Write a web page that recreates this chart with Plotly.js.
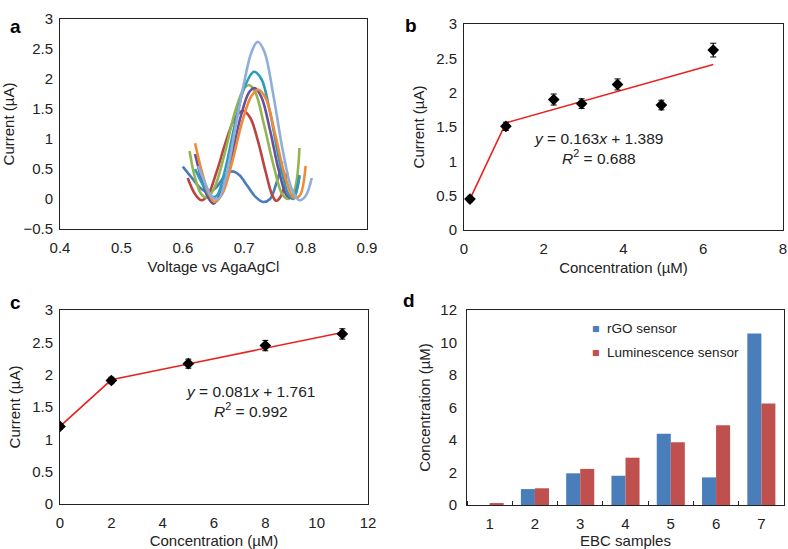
<!DOCTYPE html>
<html>
<head>
<meta charset="utf-8">
<script src="https://cdn.plot.ly/plotly-3.0.1.min.js"></script>
<style>html,body{margin:0;padding:0;background:#fff}#chart{width:788px;height:549px}</style>
</head>
<body>
<div id="chart"></div>
<script>
// ---- Panel a: voltammograms (voltage, current) ----
const vBlue = [0.600,0.615,0.630,0.643,0.655,0.668,0.680,0.692,0.705,0.718,0.731,0.742,0.752,0.762];
const iBlue = [0.54,0.35,0.17,0.11,0.20,0.38,0.46,0.40,0.22,0.04,-0.05,0.0,0.25,0.62];
const vRed = [0.608,0.620,0.630,0.640,0.655,0.670,0.685,0.698,0.710,0.722,0.735,0.745,0.752,0.760,0.770];
const iRed = [0.35,0.08,-0.02,0.05,0.45,0.95,1.35,1.47,1.35,0.98,0.45,0.08,-0.03,0.05,0.45];
const vGreen = [0.611,0.620,0.630,0.640,0.652,0.668,0.685,0.700,0.708,0.718,0.732,0.748,0.762,0.772,0.782,0.790];
const iGreen = [0.80,0.35,0.08,0.02,0.20,0.75,1.45,1.85,1.90,1.78,1.25,0.55,0.08,0.0,0.15,0.85];
const vPurple = [0.620,0.630,0.640,0.650,0.662,0.678,0.695,0.708,0.717,0.728,0.742,0.757,0.770,0.780,0.790];
const iPurple = [0.75,0.35,0.05,-0.08,0.10,0.65,1.40,1.78,1.85,1.70,1.15,0.45,0.05,0.03,0.38];
const vTeal = [0.620,0.632,0.645,0.655,0.668,0.685,0.700,0.716,0.728,0.742,0.757,0.772,0.780,0.790];
const iTeal = [0.50,0.25,0.05,0.05,0.45,1.25,1.85,2.12,2.00,1.45,0.65,0.08,0.0,0.40];
const vOrange = [0.620,0.630,0.642,0.652,0.665,0.680,0.697,0.712,0.723,0.735,0.750,0.766,0.780,0.790,0.800];
const iOrange = [0.93,0.50,0.10,-0.05,0.10,0.60,1.30,1.72,1.82,1.68,1.10,0.40,0.03,0.05,0.55];
const vLight = [0.625,0.637,0.648,0.658,0.670,0.685,0.700,0.712,0.722,0.733,0.748,0.763,0.778,0.790,0.800,0.810];
const iLight = [0.55,0.25,0.03,0.0,0.35,1.15,1.95,2.45,2.62,2.45,1.70,0.80,0.15,-0.02,0.05,0.35];
const curveColors = ['#4a7ebb','#b94441','#92b552','#6b4f9a','#2e9bbd','#f08a35','#8eaedb'];

// ---- Panel b: calibration ----
const concB = [0.15,1.05,2.25,2.95,3.85,4.95,6.25];
const currB = [0.45,1.51,1.90,1.84,2.12,1.82,2.62];
const errB = [0.04,0.06,0.08,0.07,0.08,0.07,0.10];
const fitBX = [0.15,1.05,6.25];
const fitBY = [0.45,1.56,2.41];

// ---- Panel c: calibration ----
const concC = [0,2,5,8,11];
const currC = [1.20,1.91,2.17,2.45,2.63];
const errC = [0.04,0.05,0.07,0.08,0.08];
const fitCX = [0,2,5,8,11];
const fitCY = [1.20,1.92,2.166,2.41,2.652];

// ---- Panel d: EBC samples ----
const samples = [1,2,3,4,5,6,7];
const rgo = [0,0.98,1.95,1.80,4.39,1.70,10.56];
const lum = [0.12,1.03,2.22,2.91,3.86,4.90,6.24];
const seriesNames = ['rGO sensor','Luminescence sensor'];
const barColors = ['#4a7ebb','#c0504d'];

const FONT = 'Liberation Sans, Arial, Helvetica, sans-serif';
const TXT = '#222';
const traces = [];
const curves = [[vBlue,iBlue],[vRed,iRed],[vGreen,iGreen],[vPurple,iPurple],[vTeal,iTeal],[vOrange,iOrange],[vLight,iLight]];
curves.forEach((c,k)=>{
  traces.push({x:c[0],y:c[1],type:'scatter',mode:'lines',line:{color:curveColors[k],width:2.6,shape:'spline',smoothing:1},xaxis:'x',yaxis:'y',showlegend:false,hoverinfo:'skip'});
});
traces.push({x:fitBX,y:fitBY,type:'scatter',mode:'lines',line:{color:'#e8231f',width:1.6},xaxis:'x2',yaxis:'y2',showlegend:false});
traces.push({x:concB,y:currB,type:'scatter',mode:'markers',marker:{symbol:'diamond',size:9,color:'#000'},
  error_y:{type:'data',array:errB,color:'#000',thickness:1,width:3},xaxis:'x2',yaxis:'y2',showlegend:false});
traces.push({x:fitCX,y:fitCY,type:'scatter',mode:'lines',line:{color:'#e8231f',width:1.6},xaxis:'x3',yaxis:'y3',showlegend:false});
traces.push({x:concC,y:currC,type:'scatter',mode:'markers',marker:{symbol:'diamond',size:9,color:'#000'},
  error_y:{type:'data',array:errC,color:'#000',thickness:1,width:3},xaxis:'x3',yaxis:'y3',showlegend:false});
traces.push({x:samples,y:rgo,type:'bar',name:seriesNames[0],marker:{color:barColors[0]},xaxis:'x4',yaxis:'y4',showlegend:false});
traces.push({x:samples,y:lum,type:'bar',name:seriesNames[1],marker:{color:barColors[1]},xaxis:'x4',yaxis:'y4',showlegend:false});
// legend entries with a small square key right beside the text, as in the reference
[0,1].forEach(k=>{
  traces.push({x:[null],y:[null],type:'scatter',mode:'markers',
    name:'<span style="color:'+barColors[k]+';font-size:12.5px">■</span>  '+seriesNames[k],
    marker:{symbol:'square',size:1,color:'rgba(0,0,0,0)',line:{width:0}},xaxis:'x4',yaxis:'y4',legend:k===0?'legend':'legend2'});
});

function ax(domain, range, dtick, title, standoff, anchor, extra){
  return Object.assign({domain:domain, range:range, dtick:dtick, tick0:0, anchor:anchor,
    showline:true, linecolor:'#222', linewidth:1, mirror:true, ticks:'', showgrid:false, zeroline:false,
    tickfont:{family:FONT,size:15,color:TXT},
    title:{text:title, font:{family:FONT,size:15,color:TXT}, standoff:standoff}}, extra||{});
}
const W=788,H=549;
const px=v=>v/W, py=v=>1-v/H;
const legendStyle = {xanchor:'left',yanchor:'middle',bgcolor:'rgba(0,0,0,0)',itemwidth:30,font:{family:FONT,size:13.5,color:TXT}};

const layout = {
  width:W, height:H, margin:{l:0,r:0,t:0,b:0}, paper_bgcolor:'#fff', plot_bgcolor:'#fff',
  font:{family:FONT,color:TXT},
  barmode:'group', bargap:0.38, bargroupgap:0,
  xaxis: ax([px(60),px(367)],[0.4,0.9],0.1,'Voltage vs AgaAgCl',6,'y',{ticklabelstandoff:5}),
  yaxis: ax([py(229),py(19)],[-0.5,3],0.5,'Current (µA)',7,'x',{ticklabelstandoff:3}),
  xaxis2: ax([px(464),px(783)],[0,8],2,'Concentration (µM)',6,'y2',{ticklabelstandoff:5}),
  yaxis2: ax([py(230),py(24)],[0,3],0.5,'Current (µA)',7,'x2',{ticklabelstandoff:3}),
  xaxis3: ax([px(60),px(368)],[0,12],2,'Concentration (µM)',6,'y3',{ticklabelstandoff:5}),
  yaxis3: ax([py(504),py(310)],[0,3],0.5,'Current (µA)',7,'x3',{ticklabelstandoff:3}),
  xaxis4: ax([px(467),px(784)],[0.5,7.5],1,'EBC samples',6,'y4',{tick0:1,ticklabelstandoff:5,
     minor:{ticks:'inside',tick0:0.5,dtick:1,ticklen:4,tickcolor:'#222',tickwidth:1}}),
  yaxis4: ax([py(505),py(310)],[0,12],2,'Concentration (µM)',6,'x4',{ticklabelstandoff:6}),
  legend:Object.assign({x:px(552),y:py(328)},legendStyle),
  legend2:Object.assign({x:px(552),y:py(352)},legendStyle),
  annotations:[
    {text:'<b>a</b>',x:px(8),y:py(14),xref:'paper',yref:'paper',showarrow:false,font:{family:FONT,size:19,color:'#000'}},
    {text:'<b>b</b>',x:px(411),y:py(13),xref:'paper',yref:'paper',showarrow:false,font:{family:FONT,size:19,color:'#000'}},
    {text:'<b>c</b>',x:px(8),y:py(302),xref:'paper',yref:'paper',showarrow:false,font:{family:FONT,size:19,color:'#000'}},
    {text:'<b>d</b>',x:px(409),y:py(300),xref:'paper',yref:'paper',showarrow:false,font:{family:FONT,size:19,color:'#000'}},
    {text:'<i>y</i> = 0.163<i>x</i> + 1.389',x:3.375,y:1.335,xref:'x2',yref:'y2',showarrow:false,font:{family:FONT,size:15.5,color:TXT}},
    {text:'<i>R</i><sup>2</sup> = 0.688',x:3.375,y:1.07,xref:'x2',yref:'y2',showarrow:false,font:{family:FONT,size:15.5,color:TXT}},
    {text:'<i>y</i> = 0.081<i>x</i> + 1.761',x:7.43,y:1.74,xref:'x3',yref:'y3',showarrow:false,font:{family:FONT,size:15.5,color:TXT}},
    {text:'<i>R</i><sup>2</sup> = 0.992',x:7.43,y:1.46,xref:'x3',yref:'y3',showarrow:false,font:{family:FONT,size:15.5,color:TXT}}
  ]
};
Plotly.newPlot('chart', traces, layout, {displayModeBar:false, staticPlot:true});
</script>
</body>
</html>
